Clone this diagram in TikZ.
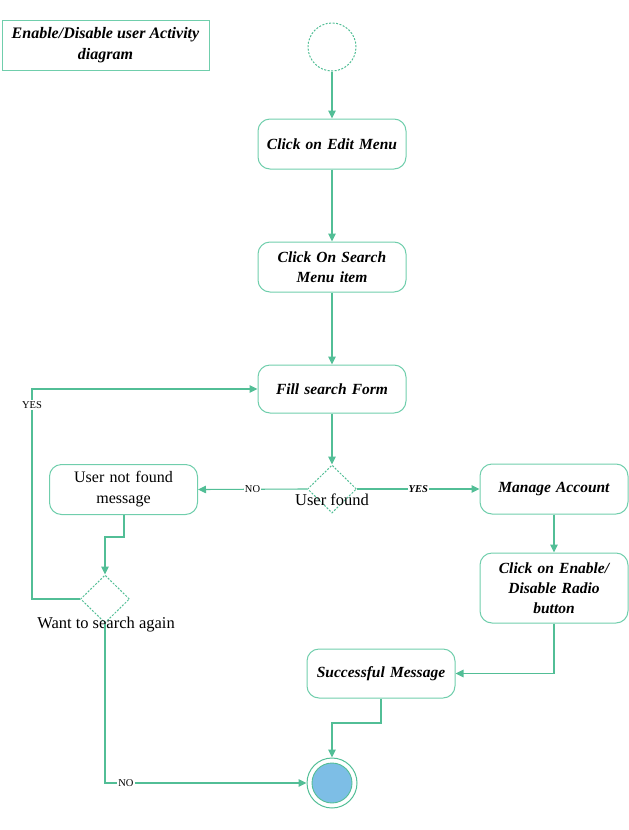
\documentclass[tikz,border=0pt]{standalone}
\usepackage{fontspec}
\setmainfont{Liberation Serif}
\usetikzlibrary{shapes.geometric,arrows.meta}
\definecolor{lg}{RGB}{82,190,150}
\definecolor{bx}{RGB}{112,206,172}
\definecolor{endfill}{RGB}{125,190,230}
\begin{document}
\begin{tikzpicture}[x=1pt,y=-1pt,
 act/.style={draw=bx, line width=1pt, rounded corners=12pt, minimum width=148pt, minimum height=50pt, align=center, font=\fontsize{15.5}{20}\selectfont\bfseries\itshape, inner sep=2pt, text width=144pt},
 plainact/.style={act, font=\fontsize{16}{21}\selectfont},
 dec/.style={draw=lg, diamond, dash pattern=on 2pt off 1.5pt, line width=1pt, minimum width=49pt, minimum height=48pt, inner sep=0pt},
 conn/.style={draw=lg, line width=1.1pt, -{Triangle[length=8pt,width=7.5pt]}},
 lab/.style={font=\fontsize{10.5}{12}\selectfont, fill=white, inner sep=1pt},
 declab/.style={font=\fontsize{16.5}{18}\selectfont}
]
\useasboundingbox (0,0) rectangle (629,830);
\node[draw=bx, line width=1pt, minimum width=207pt, minimum height=50pt, align=center, font=\fontsize{16}{21}\selectfont\bfseries\itshape] (title) at (105.5,45) {Enable/Disable user Activity\\diagram};
\node[draw=lg, circle, dash pattern=on 2pt off 1.5pt, line width=1pt, minimum size=48pt] (start) at (332,47) {};
\node[act] (edit) at (332,144) {Click on Edit Menu};
\node[act] (search) at (332,267) {Click On Search\\Menu item};
\node[act, minimum height=48pt] (fill) at (332,389) {Fill search Form};
\node[dec] (uf) at (332,489) {};
\node[declab] (uftext) at (332,500) {User found};
\node[plainact] (unf) at (123.5,489.5) {User not found\\message};
\node[act] (manage) at (554,489) {Manage Account};
\node[act, minimum height=70pt] (enable) at (554,588) {Click on Enable/\\Disable Radio\\button};
\node[act, minimum height=49pt] (succ) at (381,673.5) {Successful Message};
\node[dec] (want) at (105,599) {};
\node[declab] (wanttext) at (106,625) {Want to search again};
\node[draw=lg, circle, line width=1pt, minimum size=50pt, inner sep=0pt] (endc) at (332,783) {};
\node[draw=lg, fill=endfill, circle, line width=0.9pt, minimum size=40pt, inner sep=0pt] (endin) at (332,783) {};
\coordinate (b1) at (381,723);
\coordinate (b2) at (124,537);
\coordinate (b3) at (32,599);
\draw[conn] (start) -- (edit);
\draw[conn] (edit) -- (search);
\draw[conn] (search) -- (fill);
\draw[conn] (fill) -- (uf);
\draw[conn] (uf.west) -- node[lab]{NO} (unf.east);
\draw[conn] (uf.east) -- node[lab, font=\fontsize{10.5}{12}\selectfont\bfseries\itshape]{YES} (manage.west);
\draw[conn] (manage) -- (enable);
\draw[conn] (enable.south) |- (succ.east);
\draw[conn] (succ.south) -- (b1) -| (endc.north);
\draw[conn] (unf.south -| b2) -- (b2) -| (want.north);
\draw[conn] (want.west) -- (b3) |- (fill.west);
\node[lab] (yeslab) at (32,405) {YES};
\draw[conn] (want.south) |- (endc.west);
\node[lab] (nolab) at (126,783) {NO};
\end{tikzpicture}
\end{document}
